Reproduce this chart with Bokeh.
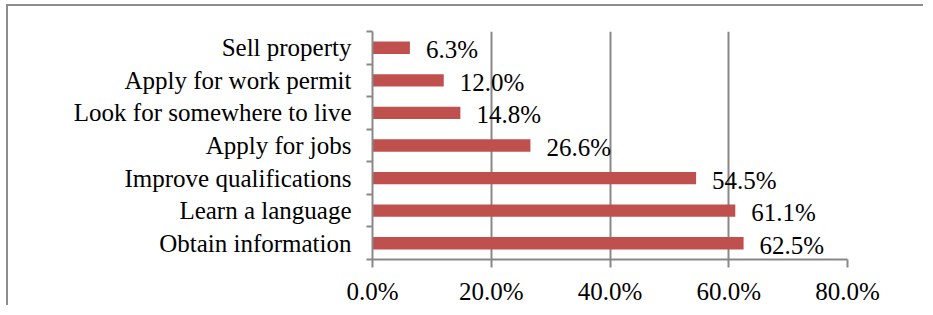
from bokeh.plotting import figure
from bokeh.models import ColumnDataSource, FixedTicker, PrintfTickFormatter, Range1d
from bokeh.core.properties import value
from bokeh.embed import file_html
from bokeh.resources import INLINE

# Data (top to bottom as shown)
categories = ["Sell property", "Apply for work permit", "Look for somewhere to live",
              "Apply for jobs", "Improve qualifications", "Learn a language", "Obtain information"]
percents = [6.3, 12.0, 14.8, 26.6, 54.5, 61.1, 62.5]
x_ticks = [0, 20, 40, 60, 80]

n = len(categories)
ypos = [n - 1 - i + 0.5 for i in range(n)]
labels = [f"{v:.1f}%" for v in percents]

src = ColumnDataSource(dict(y=ypos, v=percents, lab=labels, cat=categories))

FONT = "Liberation Serif"
GRAY = "#888888"

p = figure(width=917, height=301, output_backend="svg", toolbar_location=None,
           x_range=Range1d(0, 80), y_range=Range1d(0, n),
           min_border_left=364, min_border_right=78, min_border_top=25, min_border_bottom=47)
p.outline_line_color = None
p.styles = {"margin-top": "4px", "margin-left": "6px",
            "border-top": "2px solid #8d8d8d", "border-left": "2px solid #8d8d8d"}

p.hbar(y="y", right="v", left=0, height=0.38, source=src, color="#C0504D", line_color=None)
p.text(x="v", y="y", text="lab", source=src, x_offset=16, y_offset=2,
       text_align="left", text_baseline="middle",
       text_font=value(FONT), text_font_size="25px", text_color="black")

# x axis
xa = p.xaxis[0]
xa.ticker = FixedTicker(ticks=x_ticks)
xa.formatter = PrintfTickFormatter(format="%.1f%%")
xa.axis_line_color = GRAY
xa.axis_line_width = 2
xa.major_tick_line_color = GRAY
xa.major_tick_line_width = 2
xa.major_tick_out = 8
xa.major_tick_in = 0
xa.minor_tick_line_color = None
xa.major_label_text_font = FONT
xa.major_label_text_font_size = "25px"
xa.major_label_text_color = "black"
xa.major_label_standoff = 10

# y axis
ya = p.yaxis[0]
ya.ticker = FixedTicker(ticks=ypos, minor_ticks=list(range(n + 1)))
ya.major_label_overrides = {y: c for y, c in zip(ypos, categories)}
ya.axis_line_color = GRAY
ya.axis_line_width = 2
ya.major_tick_line_color = None
ya.major_tick_out = 0
ya.major_tick_in = 0
ya.minor_tick_line_color = GRAY
ya.minor_tick_line_width = 2
ya.minor_tick_out = 6
ya.minor_tick_in = 0
ya.major_label_text_font = FONT
ya.major_label_text_font_size = "25px"
ya.major_label_text_color = "black"
ya.major_label_standoff = 15

p.xgrid.ticker = FixedTicker(ticks=x_ticks[1:])
p.xgrid.grid_line_color = GRAY
p.xgrid.grid_line_width = 2
p.ygrid.grid_line_color = None

open("out.html", "w").write(file_html(p, INLINE))
